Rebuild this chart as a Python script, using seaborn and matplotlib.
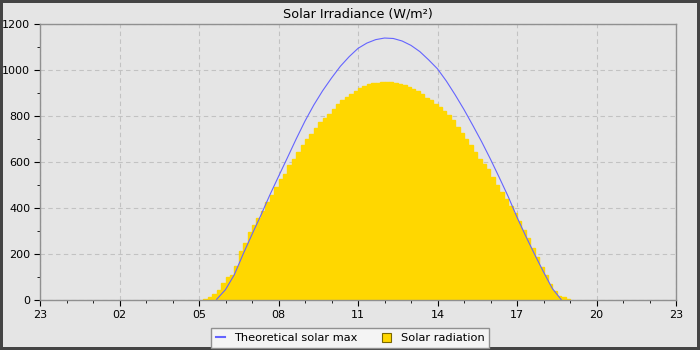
import numpy as np
import pandas as pd
import seaborn as sns
import matplotlib.pyplot as plt
from matplotlib.lines import Line2D
from matplotlib.patches import Patch
from matplotlib.ticker import MultipleLocator, FixedLocator

# x axis runs from 23:00 the day before to 23:00
x_ticks = [0, 3, 6, 9, 12, 15, 18, 21, 24]
x_labels = ['23', '02', '05', '08', '11', '14', '17', '20', '23']

# theoretical clear-sky max, every 20 min
max_times = pd.date_range('2024-06-01 05:40', '2024-06-01 18:40', freq='20min')
max_values = [3, 45, 110, 200, 285, 368, 455, 537, 618, 700,
              778, 848, 910, 965, 1016, 1058, 1094, 1117, 1132, 1139,
              1137, 1126, 1107, 1080, 1044, 1005, 952, 892, 828, 759,
              688, 612, 532, 450, 360, 277, 198, 122, 50, 2]

# measured solar radiation, 10 min bins
rad_times = pd.date_range('2024-06-01 05:10', '2024-06-01 18:50', freq='10min')
rad_values = [5, 12, 25, 45, 75,
              100, 110, 150, 215, 250, 295,
              325, 355, 385, 425, 455, 490,
              525, 550, 585, 612, 645, 672,
              700, 722, 748, 772, 790, 810,
              832, 852, 868, 883, 896, 908,
              920, 930, 937, 943, 945, 948,
              950, 946, 943, 938, 935, 928,
              918, 908, 895, 880, 868, 852,
              840, 823, 806, 782, 752, 725,
              700, 675, 643, 612, 590, 568,
              535, 500, 468, 438, 410, 378,
              345, 305, 268, 225, 185, 145,
              110, 70, 38, 18, 12, 6]


def to_hours(times):
    # hours since 23:00 of the previous day
    return np.asarray(times.hour + times.minute / 60 + 1, dtype=float)


bg = '#e5e5e5'
blue = '#6464ff'
gold = '#ffd700'

rad_h = to_hours(rad_times)
rad_df = pd.DataFrame({'hour': rad_h + 1 / 12, 'wm2': rad_values})
max_df = pd.DataFrame({'hour': to_hours(max_times), 'wm2': max_values})

fig = plt.figure(figsize=(7, 3.5), dpi=100, facecolor=bg,
                 edgecolor='#444444', linewidth=4)
ax = fig.add_axes([40 / 700, 50 / 350, 636 / 700, 276 / 350])
ax.set_facecolor(bg)

sns.histplot(data=rad_df, x='hour', weights='wm2', binwidth=1 / 6,
             binrange=(rad_h[0], rad_h[-1] + 1 / 6), color=gold,
             alpha=1, edgecolor=gold, linewidth=1.0, ax=ax)
sns.lineplot(data=max_df, x='hour', y='wm2', color=blue, linewidth=0.8, ax=ax)

ax.set_xlim(0, 24)
ax.set_ylim(0, 1200)
ax.xaxis.set_major_locator(FixedLocator(x_ticks))
ax.set_xticklabels(x_labels)
ax.xaxis.set_minor_locator(MultipleLocator(1))
ax.yaxis.set_major_locator(MultipleLocator(200))
ax.yaxis.set_minor_locator(MultipleLocator(100))
ax.set_xlabel('')
ax.set_ylabel('')

ax.grid(True, which='major', color='#c2c2c2', linestyle=(0, (4, 3)), linewidth=0.8)
ax.set_axisbelow(True)
for s in ax.spines.values():
    s.set_color('#909090')
    s.set_linewidth(1)
    s.set_zorder(5)
ax.tick_params(which='major', length=4, color='black', labelsize=8, pad=3)
ax.tick_params(which='minor', length=2.5, color='black')

ax.set_title('Solar Irradiance (W/m²)', fontsize=9.2, pad=5)

handles = [Line2D([], [], color=blue, lw=1.5),
           Patch(facecolor=gold, edgecolor='#7a6800', linewidth=0.8)]
fig.legend(handles, ['Theoretical solar max', 'Solar radiation'],
           loc='lower center', bbox_to_anchor=(0.5, 0.006), borderaxespad=0,
           ncol=2, fontsize=8.2, frameon=True, fancybox=False,
           edgecolor='#909090', facecolor='#f4f4f4', framealpha=1,
           handlelength=0.8, handleheight=0.8, columnspacing=2.2)

plt.savefig('out.png', dpi=100, facecolor=fig.get_facecolor(),
            edgecolor=fig.get_edgecolor())
